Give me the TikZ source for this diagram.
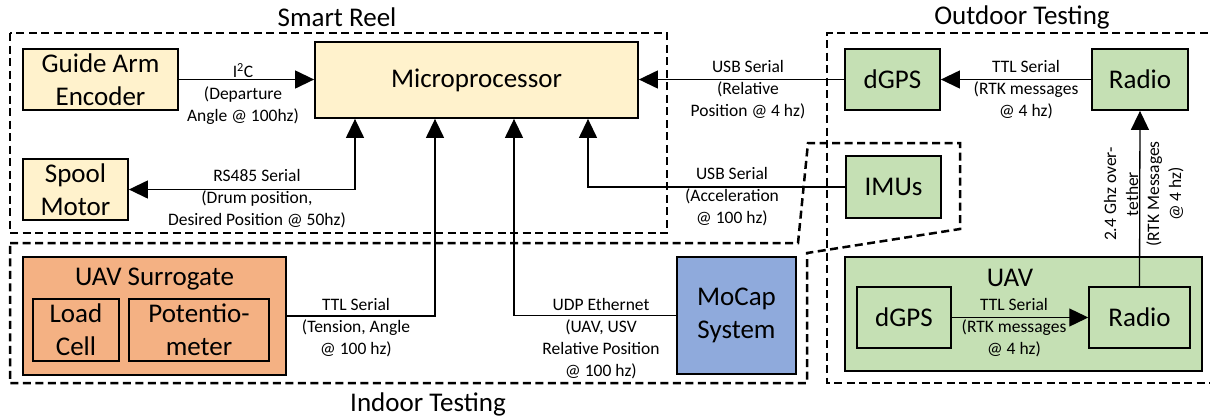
\documentclass[tikz,border=0pt]{standalone}
\usepackage{fontspec}
\setmainfont{Carlito}
\usetikzlibrary{arrows.meta}
\definecolor{yel}{HTML}{FFF2CC}
\definecolor{org}{HTML}{F4B183}
\definecolor{blu}{HTML}{8FAADC}
\definecolor{grn}{HTML}{C5E0B4}
\newcommand\bigf{\fontsize{27}{33}\selectfont}
\newcommand\smf{\fontsize{17.5}{22}\selectfont}
\begin{document}
\begin{tikzpicture}[x=1pt,y=-1pt,
  box/.style={draw=black,line width=1.8pt,align=center,inner sep=0pt,font=\bigf},
  inbox/.style={draw=black,line width=1.5pt,align=center,inner sep=0pt,font=\bigf},
  lbl/.style={align=center,inner sep=0pt,font=\smf},
  ttl/.style={inner sep=0pt,font=\bigf},
  arr/.style={line width=1.3pt,-{Triangle[length=19pt,width=18pt]}},
  darr/.style={line width=1.3pt,{Triangle[length=19pt,width=18pt]}-{Triangle[length=19pt,width=18pt]}},
  ln/.style={line width=1.3pt},
  dashbox/.style={line width=2.5pt,dash pattern=on 8pt off 4.5pt}]
\useasboundingbox (0,0) rectangle (1210,418);
\clip (0,0) rectangle (1210,418);

% dashed groups
\draw[dashbox] (10,33) rectangle (667,233);
\draw[dashbox] (1220,33) -- (827,33) -- (827,383) -- (1220,383);
\draw[dashbox] (10,243) -- (798,243) -- (808,143) -- (960,143) -- (960,229) -- (807,253) -- (807,383) -- (10,383) -- cycle;

% titles
\node[ttl] (tsr) at (337,17) {Smart Reel};
\node[ttl] (tot) at (1022,17) {Outdoor Testing};
\node[ttl] (tit) at (428,404) {Indoor Testing};

% smart reel boxes
\node[box,fill=yel,minimum width=155pt,minimum height=61pt] (guide) at (100.5,79.5) {Guide Arm\\Encoder};
\node[box,fill=yel,minimum width=323pt,minimum height=76pt] (micro) at (476.5,80) {Microprocessor};
\node[box,fill=yel,minimum width=105pt,minimum height=61pt] (spool) at (75.5,189.5) {Spool\\Motor};

% outdoor boxes
\node[box,fill=grn,minimum width=95pt,minimum height=61pt] (dgps) at (892.5,79.5) {dGPS};
\node[box,fill=grn,minimum width=96pt,minimum height=61pt] (radio) at (1140,79.5) {Radio};
\node[box,fill=grn,minimum width=95pt,minimum height=62pt] (imu) at (893.5,187) {IMUs};

% indoor boxes
\node[box,fill=org,minimum width=263pt,minimum height=118pt] (surr) at (154.5,316) {};
\node[ttl] (surrt) at (154.5,279) {UAV Surrogate};
\node[inbox,minimum width=86pt,minimum height=62pt] (load) at (76,330) {Load\\Cell};
\node[inbox,minimum width=140pt,minimum height=62pt] (pot) at (199,330) {Potentio-\\meter};
\node[box,fill=blu,minimum width=119pt,minimum height=117pt] (mocap) at (736.5,315.5) {MoCap\\System};

% UAV
\node[box,fill=grn,minimum width=357pt,minimum height=114pt] (uav) at (1023.5,314) {};
\node[ttl] (uavt) at (1010,278) {UAV};
\node[inbox,minimum width=94pt,minimum height=61pt] (udgps) at (904,317.5) {dGPS};
\node[inbox,minimum width=101pt,minimum height=61pt] (uradio) at (1139.5,317.5) {Radio};

% helper coordinates on microprocessor bottom
\coordinate (m0) at (355,0);
\coordinate (m1) at (435,0);
\coordinate (m2) at (514,0);
\coordinate (m3) at (588,0);

% connectors
\draw[arr] (guide.east) -- (guide.east -| micro.west);
\draw[darr] (spool.east) -| (m0 |- micro.south);
\draw[arr] (dgps.west) -- (dgps.west -| micro.east);
\draw[arr] (imu.west) -| (m3 |- micro.south);
\draw[arr] (surr.east) -| (m1 |- micro.south);
\draw[arr] (mocap.west) -| (m2 |- micro.south);
\draw[arr] (radio.west) -- (dgps.east);
\draw[arr] (udgps.east) -- (uradio.west);
\draw[arr] (uradio.north) -- (radio.south);

% labels
\node[lbl] (l1) at (243,94) {I\textsuperscript{2}C\\(Departure\\Angle @ 100hz)};
\node[lbl] (l2) at (257,199) {RS485 Serial\\(Drum position,\\Desired Position @ 50hz)};
\node[lbl] (l3) at (748,90) {USB Serial\\(Relative\\Position @ 4 hz)};
\node[lbl] (l4) at (732,197) {USB Serial\\(Acceleration\\@ 100 hz)};
\node[lbl] (l5) at (1026,90) {TTL Serial\\(RTK messages\\@ 4 hz)};
\node[lbl] (l6) at (356,328) {TTL Serial\\(Tension, Angle\\@ 100 hz)};
\node[lbl] (l7) at (601,339) {UDP Ethernet\\(UAV, USV\\Relative Position\\@ 100 hz)};
\node[lbl] (l8) at (1014,328) {TTL Serial\\(RTK messages\\@ 4 hz)};
\node[lbl,rotate=90] (l9) at (1121,194) {2.4 Ghz over-\\tether};
\node[lbl,rotate=90] (l10) at (1165,194) {(RTK Messages\\@ 4 hz)};
\end{tikzpicture}
\end{document}
